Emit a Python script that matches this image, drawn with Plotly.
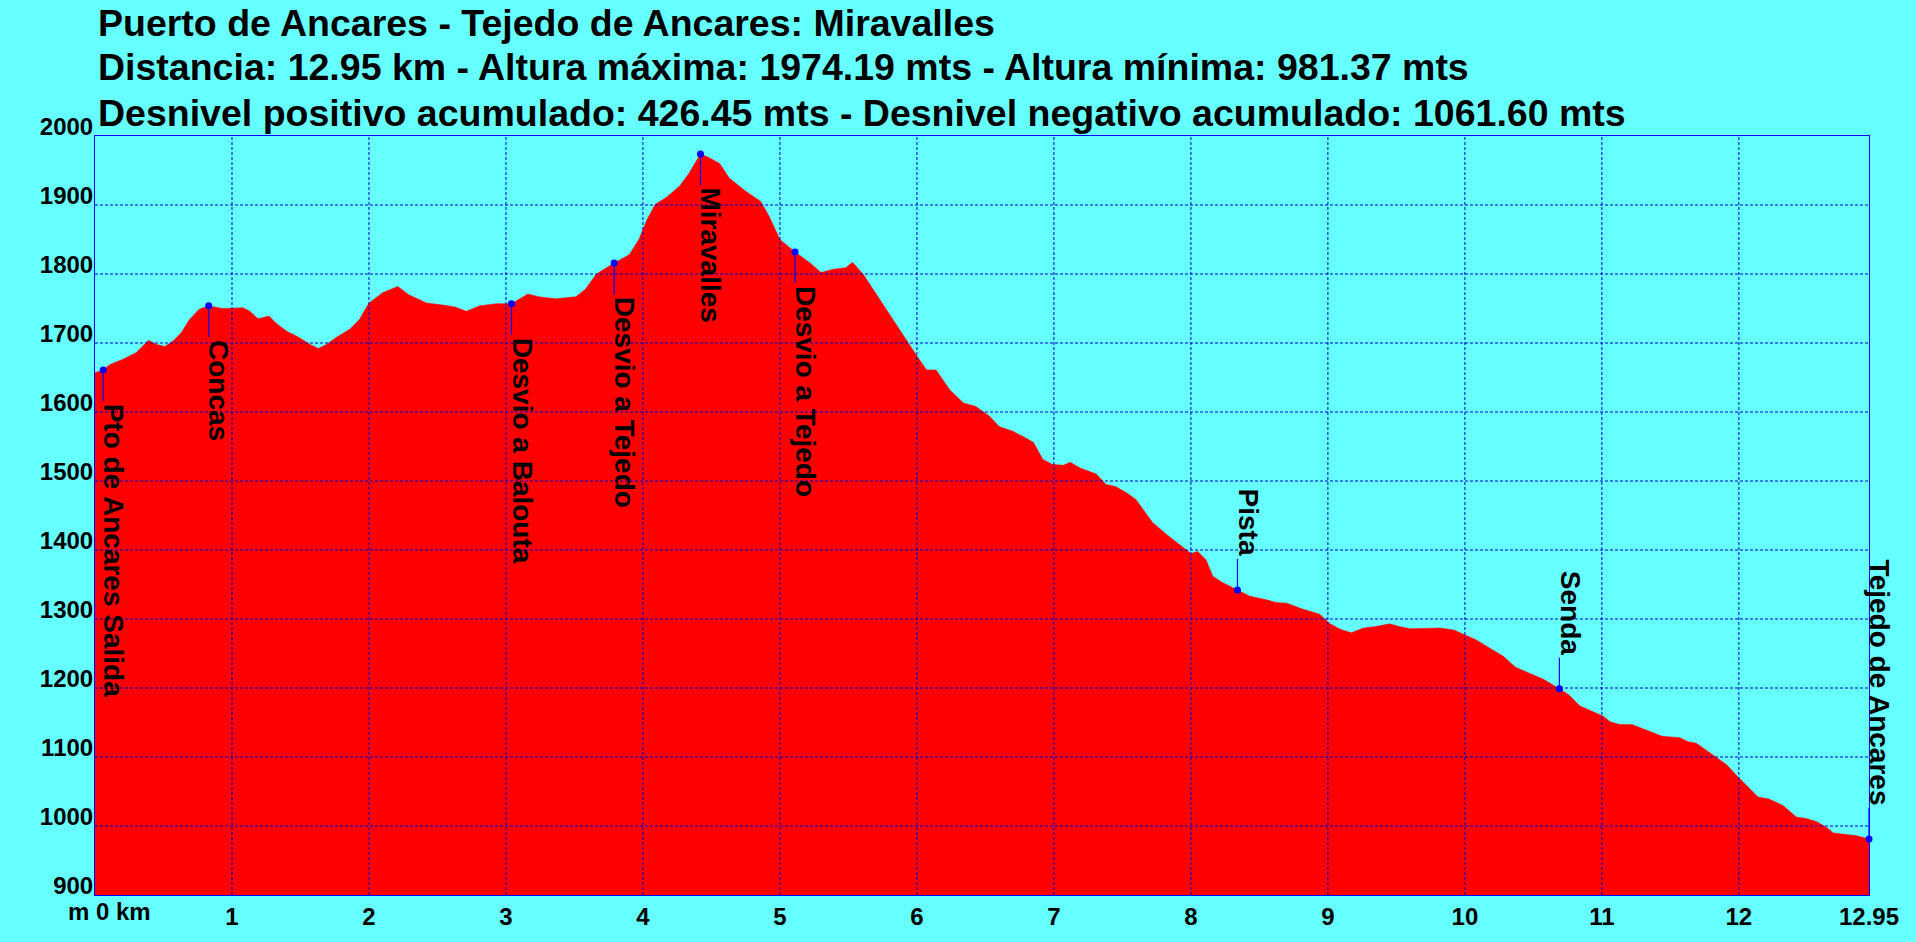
import plotly.graph_objects as go

# ---------------- data ----------------
dist_km = [0.00, 0.06, 0.11, 0.20, 0.30, 0.39, 0.45, 0.51, 0.57, 0.63, 0.69, 0.76, 0.83, 0.93,
           1.08, 1.13, 1.19, 1.27, 1.32, 1.40, 1.49, 1.57, 1.63, 1.69, 1.76, 1.86, 1.93, 2.00,
           2.10, 2.21, 2.29, 2.42, 2.54, 2.63, 2.71, 2.81, 2.93, 3.04, 3.16, 3.24, 3.36, 3.51,
           3.58, 3.66, 3.79, 3.90, 3.97, 4.03, 4.09, 4.17, 4.27, 4.34, 4.42, 4.48, 4.56, 4.63,
           4.75, 4.86, 4.92, 5.00, 5.11, 5.22, 5.30, 5.39, 5.48, 5.53, 5.61, 5.70, 5.80, 5.90,
           6.00, 6.07, 6.14, 6.24, 6.34, 6.43, 6.53, 6.60, 6.70, 6.77, 6.85, 6.92, 6.99, 7.07,
           7.12, 7.19, 7.31, 7.38, 7.45, 7.53, 7.60, 7.65, 7.72, 7.82, 7.92, 8.00, 8.05, 8.11,
           8.16, 8.23, 8.34, 8.43, 8.55, 8.62, 8.70, 8.82, 8.94, 9.01, 9.09, 9.17, 9.26, 9.35,
           9.45, 9.52, 9.60, 9.74, 9.82, 9.92, 10.01, 10.08, 10.18, 10.28, 10.37, 10.47, 10.57,
           10.69, 10.76, 10.84, 10.93, 11.01, 11.06, 11.13, 11.22, 11.30, 11.37, 11.44, 11.57,
           11.63, 11.69, 11.76, 11.83, 11.91, 11.98, 12.05, 12.14, 12.22, 12.32, 12.42, 12.49,
           12.57, 12.64, 12.69, 12.76, 12.86, 12.95]
elev_m = [1657, 1661, 1669, 1676, 1686, 1704, 1698, 1695, 1703, 1715, 1734, 1749, 1754, 1750,
          1751, 1746, 1735, 1739, 1729, 1717, 1708, 1698, 1692, 1698, 1708, 1720, 1734, 1758,
          1773, 1782, 1770, 1758, 1755, 1752, 1746, 1754, 1757, 1757, 1771, 1767, 1764, 1767,
          1778, 1800, 1816, 1828, 1850, 1879, 1901, 1911, 1928, 1947, 1974, 1969, 1960, 1939,
          1920, 1905, 1884, 1850, 1832, 1816, 1802, 1807, 1809, 1817, 1799, 1772, 1741, 1710,
          1681, 1661, 1661, 1632, 1613, 1608, 1594, 1579, 1572, 1565, 1556, 1531, 1524, 1523,
          1527, 1519, 1510, 1495, 1492, 1483, 1473, 1459, 1440, 1423, 1408, 1395, 1398, 1386,
          1362, 1353, 1342, 1333, 1328, 1324, 1323, 1314, 1307, 1294, 1285, 1280, 1287, 1289,
          1293, 1289, 1286, 1287, 1287, 1284, 1276, 1270, 1258, 1246, 1230, 1222, 1213,
          1199, 1190, 1174, 1166, 1159, 1151, 1147, 1147, 1141, 1136, 1130, 1128,
          1122, 1120, 1110, 1101, 1089, 1074, 1060, 1042, 1039, 1030, 1013, 1011,
          1006, 998, 990, 988, 986, 981]

wp_names = ["Pto de Ancares Salida", "Concas", "Desvio a Balouta", "Desvio a Tejedo",
            "Miravalles", "Desvio a Tejedo", "Pista", "Senda", "Tejedo de Ancares"]
wp_km = [0.06, 0.83, 3.04, 3.79, 4.42, 5.11, 8.34, 10.69, 12.95]
wp_elev = [1661, 1754, 1757, 1816, 1974, 1832, 1342, 1199, 981]

x_tickvals = [1, 2, 3, 4, 5, 6, 7, 8, 9, 10, 11, 12, 12.95]
x_ticktext = ["1", "2", "3", "4", "5", "6", "7", "8", "9", "10", "11", "12", "12.95"]
y_tickvals = [900, 1000, 1100, 1200, 1300, 1400, 1500, 1600, 1700, 1800, 1900, 2000]
y_ticktext = ["900", "1000", "1100", "1200", "1300", "1400", "1500", "1600", "1700", "1800", "1900", "2000"]

title_lines = [
    "Puerto de Ancares - Tejedo de Ancares: Miravalles",
    "Distancia: 12.95 km - Altura máxima: 1974.19 mts - Altura mínima: 981.37 mts",
    "Desnivel positivo acumulado: 426.45 mts - Desnivel negativo acumulado: 1061.60 mts",
]

# ---------------- style ----------------
BG = "#66ffff"
FILL = "#ff0000"
BLUE = "#0000ff"
GRID = "#0000cc"
FONT = "Liberation Sans, Arial, sans-serif"
label_side = ["below", "below", "below", "below", "below", "below", "above", "above", "above"]

fig = go.Figure()

fig.add_trace(go.Scatter(
    x=dist_km, y=elev_m, mode="lines", fill="tozeroy",
    fillcolor=FILL, line=dict(color=FILL, width=0.5), hoverinfo="skip", showlegend=False,
))

shapes = []
# dashed gridlines drawn above the filled profile
for v in x_tickvals[:-1]:
    shapes.append(dict(type="line", xref="x", yref="paper", x0=v, x1=v, y0=0, y1=1,
                       line=dict(color=GRID, width=1, dash="3px,2px"), layer="above"))
for v in y_tickvals[1:-1]:
    shapes.append(dict(type="line", xref="paper", yref="y", x0=0, x1=1, y0=v, y1=v,
                       line=dict(color=GRID, width=1, dash="3px,2px"), layer="above"))

annotations = []
for name, xk, ye, side in zip(wp_names, wp_km, wp_elev, label_side):
    sign = -1 if side == "below" else 1
    shapes.append(dict(type="line", xref="x", yref="y", ysizemode="pixel", yanchor=ye,
                       x0=xk, x1=xk, y0=0, y1=sign * 31,
                       line=dict(color=BLUE, width=1.2), layer="above"))
    annotations.append(dict(
        x=xk, y=ye, xref="x", yref="y", text=name, showarrow=False, textangle=90,
        xanchor="left", yanchor="top" if side == "below" else "bottom",
        xshift=-7, yshift=sign * 32,
        font=dict(family=FONT, size=28, color="black", weight="bold"),
    ))

fig.add_trace(go.Scatter(
    x=wp_km, y=wp_elev, mode="markers", marker=dict(color=BLUE, size=7),
    hoverinfo="skip", showlegend=False, cliponaxis=False,
))

shifts = [90, 46, 0]
for line, s in zip(title_lines, shifts):
    annotations.append(dict(
        x=0, y=1, xref="paper", yref="paper", text=line, showarrow=False,
        xanchor="left", yanchor="bottom", xshift=1, yshift=s,
        font=dict(family=FONT, size=37.5, color="black", weight="bold"),
    ))

annotations.append(dict(
    x=0, y=0, xref="x", yref="paper", text="m 0 km", showarrow=False,
    xanchor="left", yanchor="top", xshift=-29, yshift=-1,
    font=dict(family=FONT, size=24, color="black", weight="bold"),
))

fig.update_layout(
    width=1916, height=942,
    paper_bgcolor=BG, plot_bgcolor=BG,
    margin=dict(l=95, r=47, t=136, b=47, pad=0),
    shapes=shapes, annotations=annotations,
    showlegend=False,
)
fig.update_xaxes(
    range=[0, 12.95], tickvals=x_tickvals, ticktext=x_ticktext,
    showgrid=False, zeroline=False, ticks="",
    showline=True, mirror=True, linecolor=BLUE, linewidth=1, layer="above traces",
    tickfont=dict(family=FONT, size=24, color="black", weight="bold"),
    ticklabelstandoff=0,
)
fig.update_yaxes(
    range=[900, 2000], tickvals=y_tickvals, ticktext=y_ticktext,
    showgrid=False, zeroline=False, ticks="",
    showline=True, mirror=True, linecolor=BLUE, linewidth=1, layer="above traces",
    tickfont=dict(family=FONT, size=24, color="black", weight="bold"),
    ticklabelshift=-9, ticklabelstandoff=-4,
)

fig.write_html("out.html", config={"displayModeBar": False},
               post_script="document.body.style.margin='0';document.body.style.overflow='hidden';")
